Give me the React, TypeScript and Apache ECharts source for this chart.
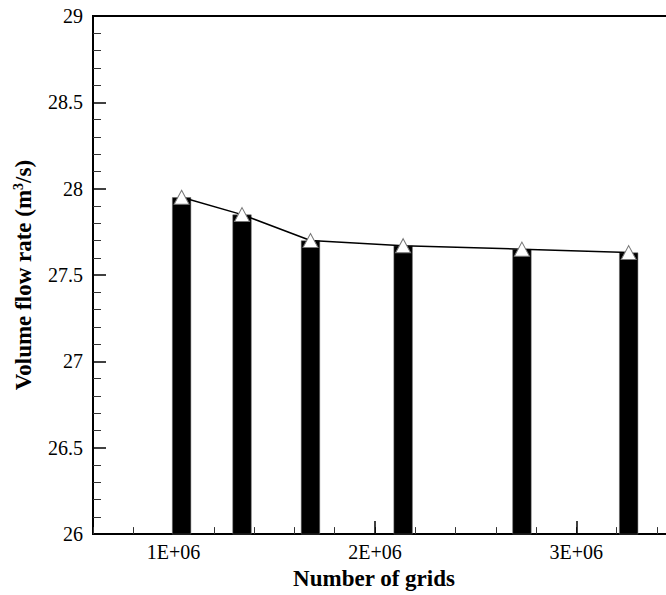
import React, { useEffect, useRef } from "react";
import * as echarts from "echarts";

const gridCounts = [1.04e6, 1.34e6, 1.68e6, 2.14e6, 2.73e6, 3.26e6];
const flowRates = [27.95, 27.85, 27.7, 27.67, 27.65, 27.63];
const xMajorTicks = [1e6, 2e6, 3e6];
const xTickLabels = ["1E+06", "2E+06", "3E+06"];

const FONT = "'Liberation Serif', 'Times New Roman', serif";

export default function App() {
  const ref = useRef<HTMLDivElement>(null);
  useEffect(() => {
    if (!ref.current) return;
    const chart = echarts.init(ref.current, undefined, { renderer: "svg" });
    const pairs = gridCounts.map((x, i) => [x, flowRates[i]]);
    chart.setOption({
      animation: false,
      backgroundColor: "#fff",
      grid: {
        left: 93,
        right: 0,
        top: 16,
        bottom: 51,
        show: true,
        borderColor: "#000",
        borderWidth: 2,
        backgroundColor: "transparent",
      },
      xAxis: [
        {
          type: "value",
          min: 0.6e6,
          max: 3.5e6,
          interval: 0.2e6,
          position: "bottom",
          axisLine: { show: true, lineStyle: { color: "#000", width: 2 } },
          axisTick: { show: true, inside: true, length: 7, lineStyle: { color: "#333", width: 1 } },
          axisLabel: { show: false },
          splitLine: { show: false },
        },
        {
          type: "value",
          min: 0.6e6,
          max: 3.5e6,
          position: "bottom",
          offset: 0,
          axisLine: { show: false },
          axisTick: {
            show: true,
            inside: true,
            length: 13,
            customValues: xMajorTicks,
            lineStyle: { color: "#000", width: 1.5 },
          },
          axisLabel: {
            show: true,
            customValues: xMajorTicks,
            formatter: (v: number) => {
              const i = xMajorTicks.indexOf(v);
              return i >= 0 ? xTickLabels[i] : "";
            },
            color: "#000",
            fontFamily: FONT,
            fontSize: 20,
            margin: 8,
          },
          splitLine: { show: false },
          name: "Number of grids",
          nameLocation: "middle",
          nameGap: 24,
          nameTextStyle: {
            color: "#000",
            fontFamily: FONT,
            fontSize: 23,
            fontWeight: "bold",
            padding: [0, 22, 0, 0],
          },
        },
      ],
      yAxis: {
        type: "value",
        min: 26,
        max: 29,
        interval: 0.5,
        axisLine: { show: true, lineStyle: { color: "#000", width: 2 } },
        axisTick: { show: true, inside: true, length: 13, lineStyle: { color: "#000", width: 1.5 } },
        minorTick: { show: true, splitNumber: 5, length: 8, lineStyle: { color: "#333", width: 1 } },
        splitLine: { show: false },
        minorSplitLine: { show: false },
        axisLabel: {
          color: "#000",
          fontFamily: FONT,
          fontSize: 20,
          margin: 10,
        },
        name: "{t|Volume flow rate (m}{s|3}{t|/s)}",
        nameLocation: "middle",
        nameGap: 58,
        nameTextStyle: {
          color: "#000",
          fontFamily: FONT,
          fontSize: 23,
          fontWeight: "bold",
          rich: {
            t: { fontFamily: FONT, fontSize: 23, fontWeight: "bold", color: "#000" },
            s: {
              fontFamily: FONT,
              fontSize: 14,
              fontWeight: "bold",
              color: "#000",
              padding: [0, 0, 10, 0],
            },
          },
        },
      },
      series: [
        {
          type: "bar",
          xAxisIndex: 0,
          data: pairs,
          barWidth: 19,
          itemStyle: { color: "#000", borderColor: "#666", borderWidth: 0.5 },
          z: 2,
        },
        {
          type: "line",
          xAxisIndex: 0,
          data: pairs,
          lineStyle: { color: "#000", width: 1.5 },
          symbol: "triangle",
          symbolSize: [15, 14],
          itemStyle: { color: "#fff", borderColor: "#777", borderWidth: 1 },
          z: 3,
        },
      ],
    });
    return () => chart.dispose();
  }, []);
  return (
    <div
      style={{
        position: "fixed",
        left: 0,
        top: 0,
        width: 666,
        height: 595,
        overflow: "hidden",
        background: "#fff",
      }}
    >
      <div ref={ref} style={{ width: 677, height: 595 }} />
    </div>
  );
}
